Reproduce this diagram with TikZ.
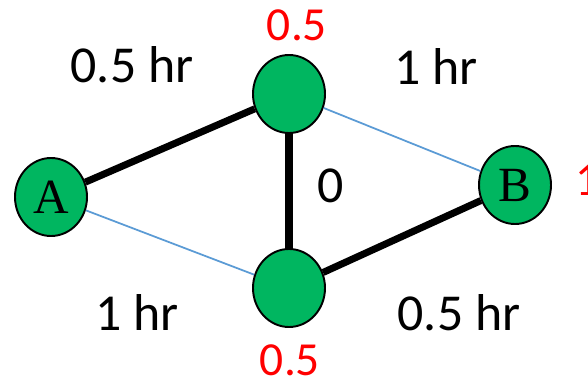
\documentclass[tikz,border=0pt]{standalone}
\usepackage{fontspec}
\setmainfont{Carlito}
\newfontfamily\letras{Liberation Serif}
\usetikzlibrary{shapes.geometric}
\definecolor{verdenodo}{RGB}{0,182,96}
\definecolor{azulenlace}{RGB}{91,155,213}
\tikzset{
  nodo/.style={
    ellipse,
    draw=black,
    line width=1.1pt,
    fill=verdenodo,
    minimum width=1.44cm,
    minimum height=1.56cm,
    inner sep=0pt,
    font=\letras\fontsize{28}{28}\selectfont
  },
  ruta/.style={
    line width=4pt,
    black
  },
  enlace/.style={
    line width=1pt,
    azulenlace
  },
  peso/.style={
    anchor=base,
    font=\fontsize{29.5}{31}\selectfont
  },
  costo/.style={
    anchor=base,
    text=red,
    font=\fontsize{27}{29}\selectfont
  }
}

\begin{document}
\begin{tikzpicture}
\useasboundingbox (0,0) rectangle (11.76,7.62);
\node[nodo] (a) at (1.02,3.68) {A};
\node[nodo] (t) at (5.78,5.74) {};
\node[nodo] (d) at (5.78,1.86) {};
\node[nodo] (b) at (10.30,3.92) {B};
% caminos
\draw[ruta] (a) -- (t);
\draw[ruta] (t) -- (d);
\draw[ruta] (d) -- (b);
\draw[enlace] (t) -- (b);
\draw[enlace] (a) -- (d);
% tiempos
\node[peso] (p1) at (2.64,5.96) {0.5 hr};
\node[peso] (p2) at (8.72,5.92) {1 hr};
\node[peso] (p3) at (6.62,3.56) {0};
\node[peso] (p4) at (2.74,1.02) {1 hr};
\node[peso] (p5) at (9.18,1.02) {0.5 hr};
% costos
\node[costo] (c1) at (5.94,6.80) {0.5};
\node[costo] (c2) at (5.80,0.12) {0.5};
\node[costo,anchor=base west] (c3) at (11.39,3.72) {1};
\end{tikzpicture}
\end{document}
